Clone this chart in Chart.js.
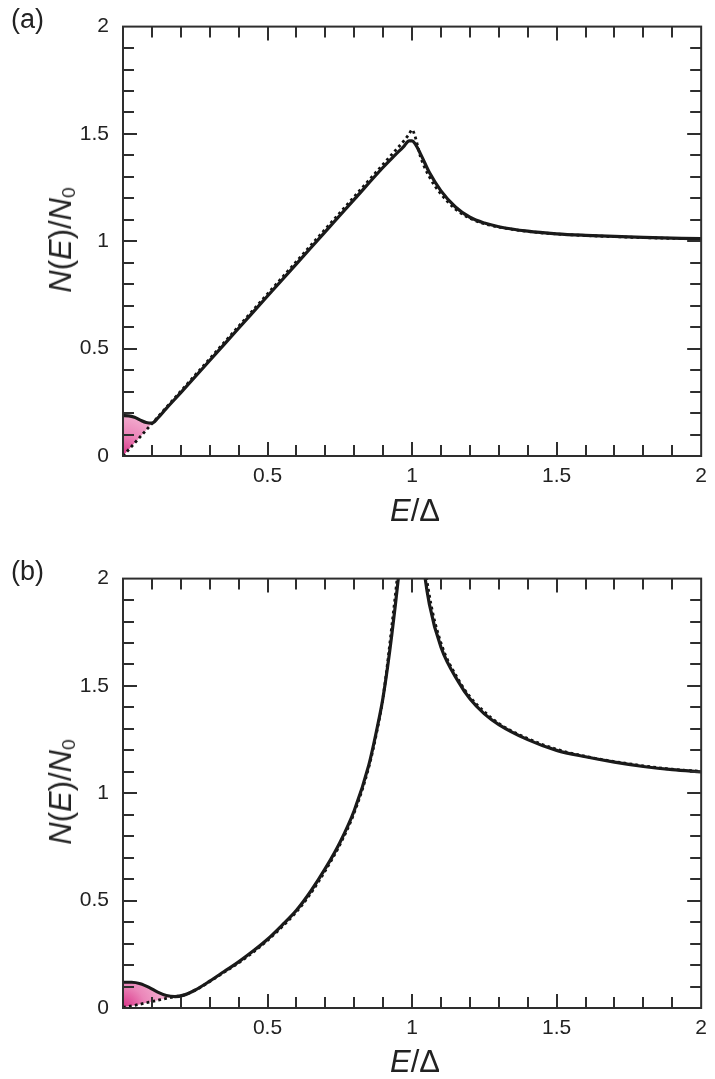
<!DOCTYPE html>
<html>
<head>
<meta charset="utf-8">
<script src="https://cdn.jsdelivr.net/npm/chart.js@4.4.1/dist/chart.umd.min.js"></script>
<style>
html,body{margin:0;padding:0;background:#fff;}
body{width:715px;height:1079px;position:relative;overflow:hidden;font-family:"Liberation Sans",Arial,sans-serif;color:#222;}
.panel{position:absolute;left:0;width:715px;height:527px;}
.panel canvas{position:absolute;left:0;top:0;}
.plabel{position:absolute;left:11px;font-size:27px;line-height:30px;}
.ytitle{position:absolute;left:63px;transform:translate(-50%,-50%) rotate(-90deg);font-size:31px;line-height:34px;white-space:nowrap;}
.xtitle{position:absolute;left:415px;transform:translate(-50%,-50%);font-size:31px;line-height:34px;white-space:nowrap;}
.ytitle sub{font-size:0.62em;vertical-align:baseline;position:relative;top:0.22em;}
</style>
</head>
<body>
<div class="panel" style="top:0px"><canvas id="ca" width="715" height="527"></canvas></div>
<div class="panel" style="top:552px"><canvas id="cb" width="715" height="527"></canvas></div>
<div class="plabel" style="top:4px">(a)</div>
<div class="plabel" style="top:556px">(b)</div>
<div class="ytitle" style="top:240px"><i>N</i>(<i>E</i>)/<i>N</i><sub>0</sub></div>
<div class="ytitle" style="top:792px"><i>N</i>(<i>E</i>)/<i>N</i><sub>0</sub></div>
<div class="xtitle" style="top:511px"><i>E</i>/Δ</div>
<div class="xtitle" style="top:1062px"><i>E</i>/Δ</div>
<script>
// ---------- data ----------
const xTickValues = [0.5, 1, 1.5, 2];
const xTickLabels = ['0.5', '1', '1.5', '2'];
const yTickValues = [0, 0.5, 1, 1.5, 2];
const yTickLabels = ['0', '0.5', '1', '1.5', '2'];

// panel (a)
const energyA = [0, 0.02, 0.04, 0.06, 0.08, 0.1, 0.12, 0.15, 0.2, 0.3, 0.4, 0.5, 0.6, 0.7, 0.8, 0.9, 0.94, 0.97, 0.99, 1.0, 1.01, 1.03, 1.06, 1.1, 1.15, 1.2, 1.25, 1.3, 1.4, 1.5, 1.6, 1.8, 2.0];
const solidA  = [0.188, 0.187, 0.18, 0.167, 0.156, 0.153, 0.176, 0.222, 0.295, 0.445, 0.595, 0.745, 0.895, 1.045, 1.195, 1.345, 1.40, 1.44, 1.468, 1.468, 1.455, 1.405, 1.32, 1.235, 1.16, 1.112, 1.085, 1.068, 1.047, 1.035, 1.028, 1.018, 1.012];
const dottedA = [0, 0.03, 0.06, 0.09, 0.12, 0.151, 0.181, 0.2265, 0.302, 0.453, 0.604, 0.755, 0.906, 1.057, 1.208, 1.359, 1.42, 1.465, 1.50, 1.52, 1.49, 1.39, 1.30, 1.22, 1.15, 1.107, 1.082, 1.066, 1.046, 1.034, 1.027, 1.017, 1.011];
const fillEndA = 0.1;

// panel (b)
const energyB = [0, 0.03, 0.06, 0.09, 0.12, 0.15, 0.18, 0.21, 0.25, 0.3, 0.35, 0.4, 0.45, 0.5, 0.55, 0.6, 0.65, 0.7, 0.75, 0.8, 0.85, 0.88, 0.9, 0.93, 0.96, 0.98, 1.0, 1.02, 1.04, 1.06, 1.1, 1.16, 1.2, 1.25, 1.3, 1.4, 1.5, 1.6, 1.7, 1.8, 1.9, 2.0];
const solidB  = [0.12, 0.12, 0.113, 0.096, 0.074, 0.058, 0.053, 0.06, 0.084, 0.125, 0.17, 0.215, 0.265, 0.32, 0.385, 0.455, 0.545, 0.65, 0.77, 0.92, 1.13, 1.31, 1.45, 1.74, 2.1, 2.4, 2.6, 2.4, 2.06, 1.88, 1.68, 1.52, 1.44, 1.37, 1.32, 1.25, 1.2, 1.17, 1.145, 1.125, 1.11, 1.1];
const dottedB = [0.003, 0.01, 0.018, 0.027, 0.036, 0.045, 0.053, 0.06, 0.083, 0.123, 0.167, 0.21, 0.26, 0.315, 0.378, 0.448, 0.535, 0.64, 0.76, 0.91, 1.12, 1.30, 1.45, 1.78, 2.16, 2.5, 2.7, 2.5, 2.12, 1.92, 1.7, 1.53, 1.45, 1.38, 1.325, 1.255, 1.205, 1.172, 1.148, 1.128, 1.112, 1.102];
const fillEndB = 0.18;

// ---------- helpers ----------
Chart.defaults.font.family = '"Liberation Sans", Arial, sans-serif';
Chart.defaults.font.size = 20;
Chart.defaults.color = '#222';

function pts(xs, ys, xmax) {
  const out = [];
  for (let i = 0; i < xs.length; i++) {
    if (xmax === undefined || xs[i] <= xmax + 1e-9) out.push({x: xs[i], y: ys[i]});
  }
  return out;
}
function labelFor(v, vals, labels) {
  for (let i = 0; i < vals.length; i++) if (Math.abs(v - vals[i]) < 1e-6) return labels[i];
  return '';
}
function isMajor(v) { return Math.abs(v * 2 - Math.round(v * 2)) < 1e-6; }

const frameTicks = {
  id: 'frameTicks',
  afterDatasetsDraw(chart) {
    const {ctx, chartArea: a} = chart;
    const xs = chart.scales.x, ys = chart.scales.y;
    ctx.save();
    ctx.strokeStyle = '#2e2e2e';
    ctx.lineWidth = 2;
    ctx.beginPath();
    xs.ticks.forEach(t => {
      if (t.value <= 0 || t.value >= 2) return;
      const p = Math.round(xs.getPixelForValue(t.value));
      const L = isMajor(t.value) ? 14 : 11;
      ctx.moveTo(p, a.bottom); ctx.lineTo(p, a.bottom - L);
      ctx.moveTo(p, a.top); ctx.lineTo(p, a.top + L);
    });
    ys.ticks.forEach(t => {
      if (t.value <= 0 || t.value >= 2) return;
      const p = Math.round(ys.getPixelForValue(t.value));
      const L = isMajor(t.value) ? 14 : 11;
      ctx.moveTo(a.left, p); ctx.lineTo(a.left + L, p);
      ctx.moveTo(a.right, p); ctx.lineTo(a.right - L, p);
    });
    ctx.stroke();
    ctx.strokeRect(a.left, a.top, a.right - a.left, a.bottom - a.top);
    ctx.restore();
  }
};

function pinkGradient(c) {
  const a = c.chart.chartArea;
  if (!a) return 'rgba(240,160,200,0.8)';
  const g = c.chart.ctx.createRadialGradient(a.left, a.bottom, 0, a.left, a.bottom, 50);
  g.addColorStop(0, '#d92f86');
  g.addColorStop(0.45, '#eb86b9');
  g.addColorStop(1, '#f5bdd8');
  return g;
}

function makeChart(id, xs, solid, dotted, fillEnd) {
  return new Chart(document.getElementById(id), {
    type: 'line',
    data: {
      datasets: [
        { // lower boundary of shaded area
          data: pts(xs, dotted, fillEnd), borderWidth: 0, pointRadius: 0, fill: false,
          cubicInterpolationMode: 'monotone', order: 3
        },
        { // upper boundary of shaded area
          data: pts(xs, solid, fillEnd), borderWidth: 0, pointRadius: 0,
          fill: {target: 0}, backgroundColor: pinkGradient,
          cubicInterpolationMode: 'monotone', order: 2
        },
        { // dotted curve
          data: pts(xs, dotted), borderColor: '#111', borderWidth: 2.8, borderDash: [2.8, 3.2],
          pointRadius: 0, fill: false, cubicInterpolationMode: 'monotone', order: 1
        },
        { // solid curve
          data: pts(xs, solid), borderColor: '#1a1a1a', borderWidth: 3.2,
          pointRadius: 0, fill: false, cubicInterpolationMode: 'monotone', order: 0
        }
      ]
    },
    options: {
      responsive: false,
      animation: false,
      events: [],
      layout: {padding: {top: 24, right: 8, bottom: 31, left: 0}},
      plugins: {legend: {display: false}, tooltip: {enabled: false}},
      scales: {
        x: {
          type: 'linear', min: 0, max: 2,
          grid: {display: false, drawTicks: false},
          border: {display: false},
          ticks: {stepSize: 0.1, autoSkip: false, maxRotation: 0, padding: 8,
                  font: {size: 21},
                  callback: v => labelFor(v, xTickValues, xTickLabels)},
          afterFit: s => { s.height = 40; }
        },
        y: {
          type: 'linear', min: 0, max: 2,
          grid: {display: false, drawTicks: false},
          border: {display: false},
          ticks: {stepSize: 0.1, autoSkip: false, padding: 14,
                  font: {size: 21},
                  callback: v => labelFor(v, yTickValues, yTickLabels)},
          afterFit: s => { s.width = 123; }
        }
      }
    },
    plugins: [frameTicks]
  });
}

makeChart('ca', energyA, solidA, dottedA, fillEndA);
makeChart('cb', energyB, solidB, dottedB, fillEndB);
</script>
</body>
</html>
